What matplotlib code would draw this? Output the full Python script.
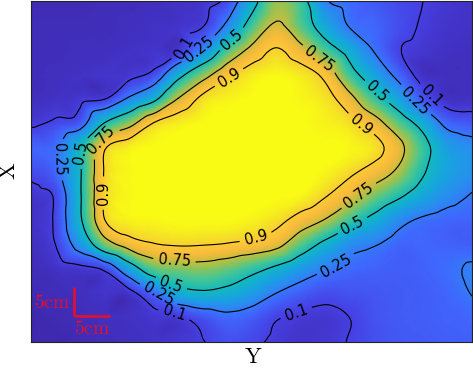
import numpy as np
import matplotlib
matplotlib.use('Agg')
import matplotlib.pyplot as plt
import matplotlib.tri as mtri
from matplotlib.colors import LinearSegmentedColormap

plt.rcParams['mathtext.fontset'] = 'cm'

# grid positions in cm (rows run top -> bottom)
x_cm = np.linspace(0, 60, 19)
y_cm = np.linspace(60, 0, 15)

# normalised field, one row per grid line
row_00 = [0.02, 0.02, 0.02, 0.03, 0.03, 0.04, 0.05, 0.06, 0.13, 0.42, 0.68, 0.58, 0.27, 0.21, 0.17, 0.13, 0.10, 0.07, 0.05]
row_01 = [0.03, 0.03, 0.03, 0.03, 0.04, 0.05, 0.06, 0.09, 0.28, 0.58, 0.77, 0.62, 0.40, 0.24, 0.20, 0.14, 0.09, 0.06, 0.05]
row_02 = [0.03, 0.03, 0.04, 0.04, 0.05, 0.06, 0.07, 0.28, 0.58, 0.79, 0.91, 0.80, 0.60, 0.42, 0.24, 0.11, 0.07, 0.05, 0.04]
row_03 = [0.03, 0.04, 0.05, 0.06, 0.07, 0.13, 0.42, 0.66, 0.86, 0.96, 0.99, 0.96, 0.86, 0.58, 0.38, 0.20, 0.05, 0.04, 0.04]
row_04 = [0.04, 0.05, 0.07, 0.09, 0.27, 0.44, 0.75, 0.93, 0.98, 1.00, 1.00, 0.99, 0.95, 0.80, 0.58, 0.38, 0.16, 0.05, 0.05]
row_05 = [0.08, 0.12, 0.17, 0.50, 0.68, 0.90, 0.97, 1.00, 1.00, 1.00, 1.00, 1.00, 0.98, 0.94, 0.82, 0.62, 0.42, 0.20, 0.16]
row_06 = [0.19, 0.22, 0.48, 0.88, 0.97, 1.00, 1.00, 1.00, 1.00, 1.00, 1.00, 1.00, 1.00, 0.99, 0.95, 0.80, 0.57, 0.36, 0.30]
row_07 = [0.13, 0.20, 0.48, 0.91, 0.99, 1.00, 1.00, 1.00, 1.00, 1.00, 1.00, 1.00, 0.99, 0.93, 0.84, 0.72, 0.52, 0.38, 0.31]
row_08 = [0.06, 0.12, 0.48, 0.91, 0.99, 1.00, 1.00, 1.00, 1.00, 1.00, 1.00, 0.99, 0.91, 0.80, 0.66, 0.53, 0.40, 0.30, 0.24]
row_09 = [0.05, 0.12, 0.47, 0.895, 0.98, 0.99, 1.00, 1.00, 1.00, 0.98, 0.94, 0.84, 0.74, 0.58, 0.44, 0.30, 0.23, 0.20, 0.19]
row_10 = [0.04, 0.10, 0.33, 0.65, 0.82, 0.89, 0.91, 0.905, 0.89, 0.86, 0.80, 0.62, 0.45, 0.31, 0.26, 0.20, 0.20, 0.19, 0.18]
row_11 = [0.03, 0.05, 0.07, 0.12, 0.38, 0.62, 0.66, 0.68, 0.64, 0.56, 0.46, 0.35, 0.26, 0.21, 0.19, 0.18, 0.19, 0.22, 0.27]
row_12 = [0.02, 0.03, 0.04, 0.06, 0.06, 0.21, 0.42, 0.47, 0.44, 0.36, 0.25, 0.18, 0.14, 0.15, 0.16, 0.17, 0.18, 0.20, 0.255]
row_13 = [0.01, 0.02, 0.03, 0.04, 0.05, 0.07, 0.08, 0.15, 0.21, 0.18, 0.11, 0.08, 0.07, 0.10, 0.15, 0.17, 0.18, 0.19, 0.20]
row_14 = [0.01, 0.01, 0.02, 0.03, 0.04, 0.05, 0.07, 0.095, 0.14, 0.12, 0.08, 0.06, 0.07, 0.105, 0.14, 0.16, 0.17, 0.18, 0.18]

levels = [0.1, 0.25, 0.5, 0.75, 0.9]

# where the contour labels sit (cm)
label_pos = {
    0.1: [(20.7, 51.9), (54.6, 43.5), (19.6, 5.3), (36.2, 4.8)],
    0.25: [(22.9, 51.4), (3.1, 32.0), (17.3, 8.3), (41.5, 13.6), (52.2, 42.4)],
    0.5: [(27.1, 53.7), (6.4, 33.4), (19.1, 10.4), (43.7, 20.6), (47.1, 44.0)],
    0.75: [(9.9, 35.0), (19.5, 14.3), (44.5, 25.9), (39.1, 49.6)],
    0.9: [(27.2, 46.1), (9.8, 26.2), (30.5, 18.8), (44.8, 38.2)],
}

# parula-like colours
parula = LinearSegmentedColormap.from_list('parula_like', [
    (0.00, (0.242, 0.150, 0.660)),
    (0.10, (0.276, 0.250, 0.890)),
    (0.20, (0.250, 0.400, 0.995)),
    (0.30, (0.160, 0.560, 0.940)),
    (0.40, (0.080, 0.660, 0.860)),
    (0.50, (0.080, 0.730, 0.740)),
    (0.60, (0.280, 0.780, 0.580)),
    (0.70, (0.620, 0.760, 0.300)),
    (0.80, (0.920, 0.730, 0.230)),
    (0.85, (0.990, 0.745, 0.235)),
    (0.90, (0.980, 0.800, 0.200)),
    (0.95, (0.960, 0.890, 0.150)),
    (1.00, (0.977, 0.984, 0.081)),
])

Z = np.array([row_00, row_01, row_02, row_03, row_04, row_05, row_06, row_07,
              row_08, row_09, row_10, row_11, row_12, row_13, row_14])
X, Y = np.meshgrid(x_cm, y_cm)

tri = mtri.Triangulation(X.ravel(), Y.ravel())
interp = mtri.CubicTriInterpolator(tri, Z.ravel(), kind='geom')
refiner = mtri.UniformTriRefiner(tri)
tri_f, z_f = refiner.refine_field(Z.ravel(), triinterpolator=interp, subdiv=3)

fig = plt.figure(figsize=(4.73, 3.68), dpi=100)
ax = fig.add_axes([31/473, 26/368, 441/473, 341/368])

ax.tripcolor(tri_f, z_f, cmap=parula, vmin=0, vmax=1, shading='gouraud')
for lev in levels:
    cs = ax.tricontour(tri_f, z_f, levels=[lev], colors='k', linewidths=0.8)
    ax.clabel(cs, manual=label_pos[lev], fmt='%g', fontsize=10.5, inline=True)

# scale bar
red = '#e0102f'
ax.plot([5.8, 5.8], [9.6, 4.6], color=red, lw=2, solid_capstyle='butt')
ax.plot([5.8, 10.8], [4.6, 4.6], color=red, lw=2, solid_capstyle='butt')
ax.text(5.3, 7.0, r'$\mathrm{5cm}$', color=red, fontsize=14, ha='right', va='center')
ax.text(8.3, 4.0, r'$\mathrm{5cm}$', color=red, fontsize=14, ha='center', va='top')

ax.set_xlim(0, 60)
ax.set_ylim(0, 60)
ax.set_xticks([])
ax.set_yticks([])
for s in ax.spines.values():
    s.set_linewidth(0.8)
    s.set_color('#222222')

fig.text(253/473, 1 - 357/368, r'$\mathrm{Y}$', fontsize=16, ha='center', va='center')
fig.text(9/473, 1 - 171/368, r'$\mathrm{X}$', fontsize=16, ha='center', va='center', rotation=90)

fig.savefig('out.png', dpi=100)
